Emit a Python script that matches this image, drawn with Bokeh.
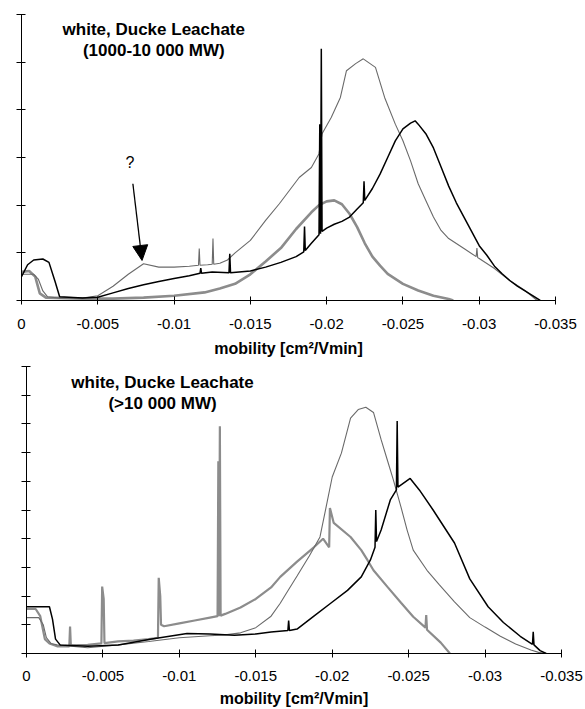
from bokeh.plotting import figure
from bokeh.models import (Range1d, FixedTicker, Label, Arrow, NormalHead, CustomJSTickFormatter,
                          CustomLabelingPolicy)
from bokeh.embed import file_html
from bokeh.resources import INLINE

# ---------------- data (mobility in cm2/Vmin, signal in arbitrary units) ----------------
X_TICKS = [0, -0.005, -0.01, -0.015, -0.02, -0.025, -0.03, -0.035]
X_LABEL = "mobility [cm\u00b2/Vmin]"
TOP_TITLE = ["white, Ducke Leachate", "(1000-10 000 MW)"]
BOT_TITLE = ["white, Ducke Leachate", "(>10 000 MW)"]

# top panel: thin grey (tallest)
TOP_THIN_X = [0, -0.0008, -0.0011, -0.0014, -0.0017, -0.0025, -0.004, -0.005, -0.006, -0.007,
              -0.008, -0.009, -0.010, -0.011, -0.0116, -0.01165, -0.0117, -0.0122, -0.0125,
              -0.01255, -0.0126, -0.013, -0.0135, -0.014, -0.015, -0.016, -0.0169, -0.0182,
              -0.019, -0.0195, -0.0197, -0.0203, -0.0209, -0.0213, -0.0219, -0.0224, -0.0232,
              -0.0238, -0.0245, -0.025, -0.0255, -0.026, -0.0265, -0.027, -0.0275, -0.028,
              -0.029, -0.0298, -0.02985, -0.0299, -0.030, -0.031, -0.032, -0.033, -0.0338]
TOP_THIN_Y = [0.55, 0.55, 0.45, 0.2, 0.08, 0.05, 0.05, 0.1, 0.3, 0.55,
              0.77, 0.7, 0.7, 0.72, 0.74, 1.09, 0.74, 0.75, 0.76,
              1.3, 0.76, 0.78, 0.85, 1.0, 1.26, 1.68, 2.03, 2.58,
              2.79, 3.08, 3.5, 3.84, 4.26, 4.82, 4.97, 5.07, 4.89,
              4.26, 3.7, 3.35, 2.93, 2.45, 2.1, 1.75, 1.47, 1.3,
              1.09, 0.92, 1.1, 0.9, 0.88, 0.67, 0.42, 0.21, 0.0]

# top panel: thick medium grey
TOP_MID_X = [0, -0.0005, -0.0009, -0.0012, -0.0016, -0.004, -0.006, -0.008, -0.010, -0.012,
             -0.013, -0.014, -0.015, -0.016, -0.017, -0.018, -0.019, -0.0195, -0.020, -0.0205,
             -0.021, -0.0215, -0.022, -0.0225, -0.023, -0.0235, -0.024, -0.025, -0.026,
             -0.027, -0.028, -0.0283]
TOP_MID_Y = [0.6, 0.62, 0.5, 0.15, 0.06, 0.04, 0.04, 0.06, 0.1, 0.17,
             0.25, 0.35, 0.55, 0.82, 1.1, 1.5, 1.85, 2.0, 2.08, 2.1,
             2.02, 1.82, 1.54, 1.2, 0.92, 0.73, 0.56, 0.35, 0.21,
             0.1, 0.03, 0.0]

# top panel: black
TOP_BLK_X = [0, -0.0004, -0.0008, -0.0014, -0.0018, -0.0022, -0.0025, -0.004, -0.005, -0.006,
             -0.007, -0.008, -0.009, -0.010, -0.011, -0.0117, -0.01175, -0.0118, -0.0125,
             -0.0136, -0.01365, -0.0137, -0.015, -0.016, -0.017, -0.018, -0.0185, -0.01855,
             -0.0186, -0.019, -0.0195, -0.01955, -0.0196, -0.01965, -0.0197, -0.020, -0.0205,
             -0.021, -0.0215, -0.022, -0.0224, -0.02245, -0.0225, -0.023, -0.0235, -0.024,
             -0.0245, -0.025, -0.0255, -0.0258, -0.026, -0.0265, -0.027, -0.0275, -0.028,
             -0.0285, -0.029, -0.0295, -0.030, -0.0305, -0.031, -0.0315, -0.032, -0.0325,
             -0.033, -0.0335, -0.034]
TOP_BLK_Y = [0.5, 0.75, 0.85, 0.87, 0.8, 0.4, 0.08, 0.05, 0.07, 0.16,
             0.25, 0.33, 0.4, 0.46, 0.52, 0.57, 0.68, 0.57, 0.6,
             0.58, 0.98, 0.58, 0.62, 0.7, 0.8, 0.92, 1.02, 1.55,
             1.05, 1.2, 1.38, 3.7, 1.4, 5.28, 1.45, 1.52, 1.6,
             1.66, 1.75, 1.92, 2.05, 2.5, 2.1, 2.35, 2.65, 3.0,
             3.35, 3.6, 3.72, 3.77, 3.7, 3.5, 3.2, 2.8, 2.4,
             2.05, 1.75, 1.45, 1.15, 0.95, 0.72, 0.56, 0.42, 0.3,
             0.2, 0.1, 0.0]

# bottom panel: thin grey (tallest)
BOT_THIN_X = [0, -0.0008, -0.0011, -0.0013, -0.0016, -0.002, -0.004, -0.006, -0.008, -0.010,
              -0.012, -0.013, -0.014, -0.015, -0.016, -0.0166, -0.017, -0.0177, -0.0185,
              -0.0192, -0.0196, -0.020, -0.0206, -0.0212, -0.0217, -0.0222, -0.0227, -0.0232,
              -0.0236, -0.024, -0.0245, -0.0249, -0.0253, -0.0262, -0.027, -0.028, -0.029,
              -0.030, -0.031, -0.032, -0.033, -0.0335, -0.034]
BOT_THIN_Y = [1.25, 1.25, 1.0, 0.55, 0.35, 0.3, 0.2, 0.3, 0.42, 0.55,
              0.62, 0.65, 0.72, 0.9, 1.3, 1.75, 2.1, 2.7, 3.4,
              4.06, 5.1, 6.15, 6.98, 8.2, 8.5, 8.58, 8.4, 7.45,
              6.75, 6.05, 5.1, 4.3, 3.6, 2.9, 2.4, 1.8, 1.25,
              0.92, 0.6, 0.33, 0.12, 0.04, 0.0]

# bottom panel: thick medium grey
BOT_MID_X = [0, -0.0006, -0.0009, -0.0012, -0.0015, -0.002, -0.0028, -0.00285, -0.0029, -0.004,
             -0.0049, -0.00495, -0.00505, -0.0051, -0.006, -0.007, -0.008, -0.0086, -0.00865,
             -0.00875, -0.0088, -0.009, -0.010, -0.011, -0.012, -0.0125, -0.01255, -0.0126,
             -0.01265, -0.0127, -0.013, -0.014, -0.015, -0.016, -0.0166, -0.0177, -0.0188,
             -0.0194, -0.0198, -0.01985, -0.0201, -0.0212, -0.0219, -0.0223, -0.0227, -0.0236,
             -0.0245, -0.0253, -0.0261, -0.02615, -0.0262, -0.0271, -0.0277]
BOT_MID_Y = [1.55, 1.55, 1.3, 0.5, 0.35, 0.25, 0.25, 0.94, 0.28, 0.3,
             0.35, 2.33, 1.9, 0.36, 0.42, 0.45, 0.5, 0.55, 2.64,
             2.0, 1.0, 0.95, 1.05, 1.15, 1.25, 1.3, 6.7, 1.3,
             7.92, 1.32, 1.38, 1.6, 1.9, 2.3, 2.67, 3.2, 3.7,
             4.0, 3.7, 5.07, 4.55, 4.06, 3.6, 3.26, 2.9, 2.33,
             1.77, 1.28, 0.9, 1.34, 0.83, 0.38, 0.0]

# bottom panel: black
BOT_BLK_X = [0, -0.0015, -0.0017, -0.0019, -0.0022, -0.004, -0.006, -0.0081, -0.0105, -0.012,
             -0.0136, -0.015, -0.016, -0.0171, -0.01715, -0.0172, -0.0177, -0.0188, -0.0199,
             -0.021, -0.0219, -0.0225, -0.0228, -0.02285, -0.0229, -0.0232, -0.0238, -0.0242,
             -0.02425, -0.0243, -0.0251, -0.0257, -0.0266, -0.028, -0.029, -0.0302, -0.0312,
             -0.0323, -0.0331, -0.03315, -0.0332, -0.0336, -0.034]
BOT_BLK_Y = [1.63, 1.63, 1.2, 0.5, 0.3, 0.25, 0.3, 0.5, 0.7, 0.68,
             0.64, 0.68, 0.75, 0.8, 1.15, 0.8, 0.85, 1.3, 1.75,
             2.2, 2.67, 3.26, 3.7, 5.0, 3.9, 4.3, 5.35, 5.7,
             8.1, 5.8, 6.1, 5.7, 5.0, 3.85, 2.6, 1.63, 1.08,
             0.6, 0.32, 0.76, 0.3, 0.1, 0.0]

# annotation of the top panel ("?" with arrow)
Q_TEXT = "?"
Q_POS = (-0.0071, 2.9)
ARROW_FROM = (-0.0073, 2.45)
ARROW_TO = (-0.0079, 0.84)

THIN_COLOR = "#6a6a6a"
MID_COLOR = "#8c8c8c"
BLK_COLOR = "#000000"
FONT = "Liberation Sans"

XFMT = CustomJSTickFormatter(code="""
if (Math.abs(tick) < 1e-9) { return "0"; }
return tick.toFixed(3).replace(/0+$/, "");
""")


def make_panel(height, ymax, left, right, top, bottom, lab_standoff, title_standoff,
               title_lines, title_x, title_y):
    p = figure(width=585, height=height, output_backend="svg", toolbar_location=None,
               x_range=Range1d(0, -0.035), y_range=Range1d(0, ymax),
               min_border_left=left, min_border_right=right,
               min_border_top=top, min_border_bottom=bottom)
    p.outline_line_color = None
    p.xgrid.visible = False
    p.ygrid.visible = False
    p.background_fill_color = "white"

    xa = p.xaxis[0]
    xa.ticker = FixedTicker(ticks=X_TICKS)
    xa.formatter = XFMT
    xa.minor_tick_line_color = None
    xa.major_tick_in = 4
    xa.major_tick_out = 4
    xa.major_label_standoff = lab_standoff
    xa.major_label_text_font = FONT
    xa.major_label_text_font_size = "15px"
    xa.major_label_text_color = "black"
    xa.axis_label = X_LABEL
    xa.axis_label_text_font = FONT
    xa.axis_label_text_font_style = "bold"
    xa.axis_label_text_font_size = "16px"
    xa.axis_label_text_color = "black"
    xa.axis_label_standoff = title_standoff
    xa.axis_line_color = "black"
    xa.major_tick_line_color = "black"

    ya = p.yaxis[0]
    ya.ticker = FixedTicker(ticks=list(range(0, int(ymax) + 1)))
    ya.minor_tick_line_color = None
    ya.major_tick_in = 4
    ya.major_tick_out = 5
    ya.major_label_policy = CustomLabelingPolicy(code="return new Set()")
    ya.major_label_text_font_size = "1px"
    ya.major_label_standoff = 0
    ya.axis_line_color = "black"
    ya.major_tick_line_color = "black"

    for i, line in enumerate(title_lines):
        p.add_layout(Label(x=title_x, y=title_y[i], text=line, text_font=FONT,
                           text_font_style="bold", text_font_size="17px",
                           text_align="center", text_baseline="middle", text_color="black"))
    return p


top = make_panel(360, 6, 21, 30, 14, 60, 14, 8, TOP_TITLE, -0.00867, [5.68, 5.24])
top.line(TOP_MID_X, TOP_MID_Y, line_color=MID_COLOR, line_width=2.6)
top.line(TOP_THIN_X, TOP_THIN_Y, line_color=THIN_COLOR, line_width=1.1)
top.line(TOP_BLK_X, TOP_BLK_Y, line_color=BLK_COLOR, line_width=1.5)
top.add_layout(Label(x=Q_POS[0], y=Q_POS[1], text=Q_TEXT, text_font=FONT, text_font_size="16px",
                     text_align="center", text_baseline="middle", text_color="black"))
top.add_layout(Arrow(end=NormalHead(size=15, fill_color="black", line_color="black"),
                     x_start=ARROW_FROM[0], y_start=ARROW_FROM[1],
                     x_end=ARROW_TO[0], y_end=ARROW_TO[1],
                     line_color="black", line_width=1.3))

bot = make_panel(349, 10, 26, 24, 6, 55, 13, 6, BOT_TITLE, -0.0089, [9.44, 8.72])
bot.line(BOT_MID_X, BOT_MID_Y, line_color=MID_COLOR, line_width=2.2)
bot.line(BOT_THIN_X, BOT_THIN_Y, line_color=THIN_COLOR, line_width=1.1)
bot.line(BOT_BLK_X, BOT_BLK_Y, line_color=BLK_COLOR, line_width=1.5)

open("out.html", "w").write(file_html([top, bot], INLINE))
